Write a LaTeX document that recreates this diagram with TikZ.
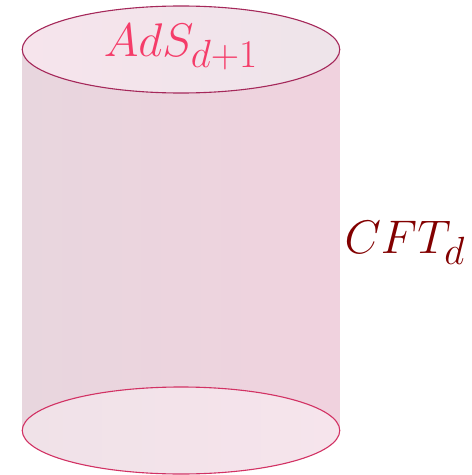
\documentclass[tikz,border=0pt]{standalone}
\definecolor{bodyL}{RGB}{232,214,222}
\definecolor{bodyR}{RGB}{240,210,222}
\definecolor{capL}{RGB}{246,228,236}
\definecolor{capR}{RGB}{238,228,234}
\definecolor{baseL}{RGB}{240,226,232}
\definecolor{baseR}{RGB}{246,228,236}
\definecolor{rimtop}{RGB}{165,40,90}
\definecolor{rimbot}{RGB}{210,50,100}
\definecolor{adscol}{RGB}{245,60,105}
\definecolor{cftcol}{RGB}{130,0,0}
\begin{document}
\begin{tikzpicture}[x=0.7227pt, y=-0.7227pt]
	\useasboundingbox (0,0) rectangle (472,475);
	\coordinate (top) at (181,49.5);
	\coordinate (bot) at (181,430.5);
	\shade[left color=bodyL, right color=bodyR] (22,49.5) rectangle (339.5,430.5);
	\shade[left color=baseL, right color=baseR] (bot) ellipse [x radius=158.75, y radius=43.5];
	\draw[rimbot, line width=0.8pt] (bot) ellipse [x radius=158.75, y radius=43.5];
	\shade[left color=capL, right color=capR] (top) ellipse [x radius=158.75, y radius=43.5];
	\draw[rimtop, line width=0.8pt] (top) ellipse [x radius=158.75, y radius=43.5];
	\node[font=\Huge, scale=1.37, adscol, inner sep=0pt] (ads) at (181,47) {$AdS_{d+1}$};
	\node[font=\Huge, scale=1.37, cftcol, inner sep=0pt] (cft) at (405,243) {$CFT_d$};
\end{tikzpicture}
\end{document}
